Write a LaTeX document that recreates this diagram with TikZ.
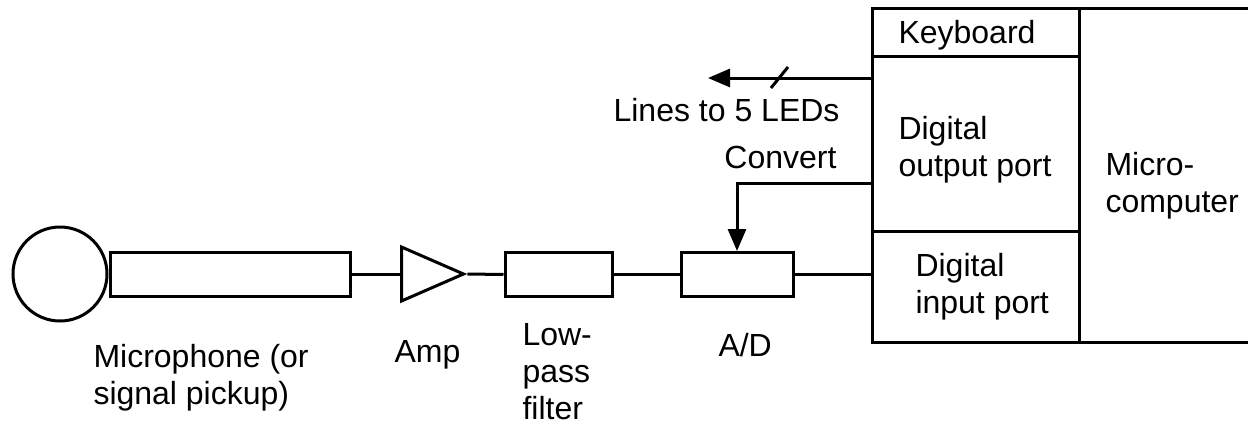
\documentclass[tikz,border=0pt]{standalone}
\usepackage{fontspec}
\setmainfont{Liberation Sans}
\usetikzlibrary{arrows.meta,positioning,shapes.geometric}

\begin{document}
\begin{tikzpicture}[
  x=0.5pt, y=-0.5pt,
  font=\fontsize{16}{18.5}\selectfont,
  line width=1.5pt,
  blk/.style  = {draw, rectangle, inner sep=0pt, minimum height=22pt},
  cell/.style = {draw, rectangle, inner sep=0pt, outer sep=0pt,
                 anchor=north west},
  lbl/.style  = {inner sep=0pt, align=left, anchor=base west},
  arr/.style  = {-{Triangle[length=11pt,width=9pt]}}
]
\useasboundingbox (0,0) rectangle (1248,423);
%% -- Signal chain --
\node[draw, circle, inner sep=0pt, minimum size=47pt] (mic) at (60,274) {};
\node[blk, minimum width=120pt, anchor=west] (tube) at (mic.east) {};
\node[draw, isosceles triangle, isosceles triangle stretches,
      inner sep=0pt, minimum width=27pt, minimum height=31pt,
      anchor=west] (amp) at (400,274) {};
\node[blk, minimum width=53.5pt] (lpf) at (558.5,274.5) {};
\node[blk, minimum width=56pt]   (adc) at (737,274.5) {};
%% -- Microcomputer --
\node[cell, minimum width=103.5pt, minimum height=24pt]   (kbd)  at (872,8) {};
\node[cell, minimum width=103.5pt, minimum height=87.5pt] (outp) at (kbd.south west) {};
\node[cell, minimum width=103.5pt, minimum height=55.5pt] (inp)  at (outp.south west) {};
\node[cell, minimum width=87pt, minimum height=167pt]     (mcu)  at (kbd.north east) {};
%% -- Flow --
\draw (tube.east) -- (amp.west);
\draw (amp.east) -- (lpf.west);
\draw (lpf.east) -- (adc.west);
\draw (adc.east) -- (adc.east -| inp.west);
\coordinate (cvt)  at (872,183);
\draw[arr] (cvt) -| (adc.north);
\coordinate (leds) at (708,78);
\draw[arr] (outp.west |- leds) -- (leds);
\draw (771,88) -- (788,67);
%% -- Labels (base = last line) --
\node[lbl] (kbdl)  at (897,43)  {Keyboard};
\node[lbl] (outl)  at (897,176) {Digital\\output port};
\node[lbl] (inl)   at (914,313) {Digital\\input port};
\node[lbl] (mcul)  at (1104,212) {Micro-\\computer};
\node[lbl, anchor=base east] (ledl) at (841,121) {Lines to 5 LEDs};
\node[lbl, anchor=base east] (cvtl) at (838,168) {Convert};
\node[lbl] (micl)  at (92,404)  {Microphone (or\\signal pickup)};
\node[lbl] (ampl)  at (393,362) {Amp};
\node[lbl] (lpfl)  at (521,419) {Low-\\pass\\filter};
\node[lbl] (adcl)  at (717,356) {A/D};
\end{tikzpicture}
\end{document}
